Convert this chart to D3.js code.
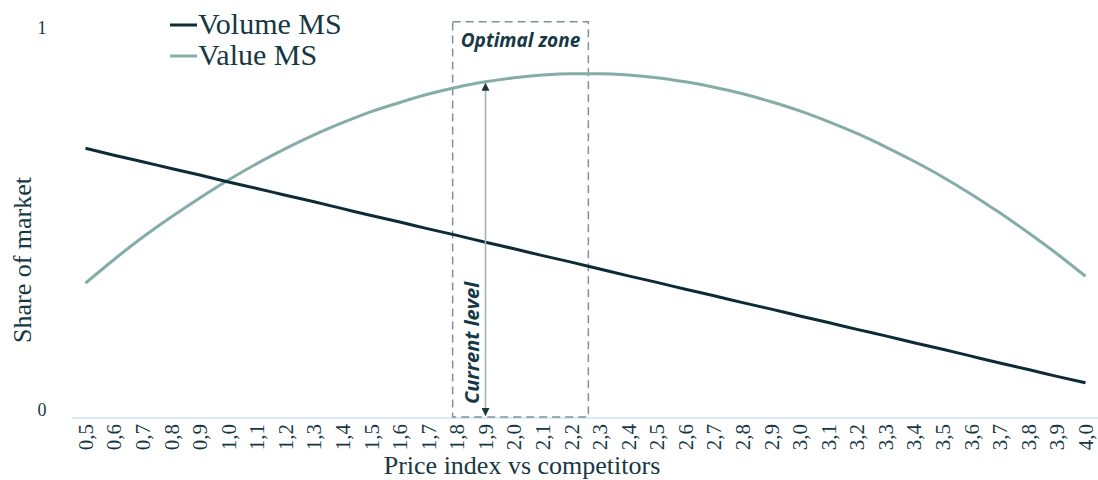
<!DOCTYPE html>
<html>
<head>
<meta charset="utf-8">
<script src="https://cdn.jsdelivr.net/npm/d3@7"></script>
<style>
  html, body { margin: 0; padding: 0; background: #fff; }
  svg { display: block; }
</style>
</head>
<body>
<svg id="chart" width="1098" height="480"></svg>
<script>
(function() {

  // price index categories (x axis)
  var priceLabels = ["0,5", "0,6", "0,7", "0,8", "0,9", "1,0", "1,1", "1,2", "1,3", "1,4",
                     "1,5", "1,6", "1,7", "1,8", "1,9", "2,0", "2,1", "2,2", "2,3", "2,4",
                     "2,5", "2,6", "2,7", "2,8", "2,9", "3,0", "3,1", "3,2", "3,3", "3,4",
                     "3,5", "3,6", "3,7", "3,8", "3,9", "4,0"];

  var volumeMS = [0.706, 0.688, 0.671, 0.653, 0.636, 0.618, 0.601, 0.583, 0.566, 0.548,
                  0.530, 0.513, 0.495, 0.478, 0.460, 0.443, 0.425, 0.408, 0.390, 0.372,
                  0.355, 0.337, 0.320, 0.302, 0.285, 0.267, 0.250, 0.232, 0.215, 0.197,
                  0.180, 0.162, 0.144, 0.127, 0.109, 0.092];

  var valueMS = [0.353, 0.415, 0.473, 0.526, 0.576, 0.623, 0.666, 0.705, 0.741, 0.773,
                 0.802, 0.826, 0.848, 0.866, 0.880, 0.891, 0.898, 0.901, 0.901, 0.898,
                 0.891, 0.880, 0.866, 0.849, 0.828, 0.804, 0.776, 0.745, 0.710, 0.672,
                 0.631, 0.586, 0.537, 0.485, 0.430, 0.371];

  var seriesNames = ["Volume MS", "Value MS"];
  var yTickLabels = ["0", "1"];

  // optimal zone (price index) and current level
  var optimalZone = [1.785, 2.26];
  var zoneTop = 1.037;
  var currentLevel = 1.9;

  var darkColor = "#0c2b37";
  var lightColor = "#84aca9";
  var textColor = "#163844";

  var prices = priceLabels.map(function(d) { return +d.replace(",", "."); });

  var svg = d3.select("#chart");

  var x = d3.scaleLinear().domain([0.5, 4.0]).range([85.5, 1085.5]);
  var y = d3.scaleLinear().domain([0, 1]).range([418, 36]);

  // x axis baseline
  svg.append("line")
      .attr("x1", 72)
      .attr("x2", 1100)
      .attr("y1", y(0))
      .attr("y2", y(0))
      .style("stroke", "#cce6f2")
      .style("stroke-width", 1.5);

  // x tick labels, rotated
  svg.append("g")
    .selectAll("text")
    .data(priceLabels)
    .enter()
    .append("text")
      .attr("transform", function(d, i) {
        return "translate(" + x(prices[i]) + "," + 424 + ") rotate(-90)";
      })
      .attr("text-anchor", "end")
      .attr("dy", "0.35em")
      .style("font-family", "'Liberation Serif', 'Times New Roman', serif")
      .style("font-size", "21px")
      .style("fill", textColor)
      .text(function(d) { return d; });

  // y tick labels
  svg.append("g")
    .selectAll("text")
    .data(yTickLabels)
    .enter()
    .append("text")
      .attr("x", 42)
      .attr("y", function(d) { return y(+d) - 8; })
      .attr("text-anchor", "middle")
      .attr("dy", "0.35em")
      .style("font-family", "'Liberation Serif', 'Times New Roman', serif")
      .style("font-size", "18px")
      .style("fill", textColor)
      .text(function(d) { return d; });

  // axis titles
  svg.append("text")
      .attr("x", 522)
      .attr("y", 474)
      .attr("text-anchor", "middle")
      .style("font-family", "'Liberation Serif', 'Times New Roman', serif")
      .style("font-size", "26px")
      .style("fill", textColor)
      .text("Price index vs competitors");

  svg.append("text")
      .attr("transform", "translate(31,260) rotate(-90)")
      .attr("text-anchor", "middle")
      .style("font-family", "'Liberation Serif', 'Times New Roman', serif")
      .style("font-size", "26px")
      .style("fill", textColor)
      .text("Share of market");

  // optimal zone box
  svg.append("rect")
      .attr("x", x(optimalZone[0]))
      .attr("y", y(zoneTop))
      .attr("width", x(optimalZone[1]) - x(optimalZone[0]))
      .attr("height", y(0) - y(zoneTop) - 1)
      .style("fill", "none")
      .style("stroke", "#7c9493")
      .style("stroke-width", 1.5)
      .style("stroke-dasharray", "8,5");

  svg.append("text")
      .attr("x", (x(optimalZone[0]) + x(optimalZone[1])) / 2)
      .attr("y", 47)
      .attr("text-anchor", "middle")
      .style("font-family", "'Open Sans', Lato, sans-serif")
      .style("font-style", "italic")
      .style("font-weight", "bold")
      .style("font-size", "19px")
      .style("fill", textColor)
      .text("Optimal zone");

  // lines
  var line = d3.line()
      .x(function(d, i) { return x(prices[i]); })
      .y(function(d) { return y(d); })
      .curve(d3.curveMonotoneX);

  svg.append("path")
      .datum(valueMS)
      .attr("d", line)
      .style("fill", "none")
      .style("stroke", lightColor)
      .style("stroke-width", 3);

  svg.append("path")
      .datum(volumeMS)
      .attr("d", line)
      .style("fill", "none")
      .style("stroke", darkColor)
      .style("stroke-width", 3);

  // current level double arrow
  var defs = svg.append("defs");
  ["start", "end"].forEach(function(k) {
    defs.append("marker")
        .attr("id", "arrow-" + k)
        .attr("viewBox", "0 0 10 10")
        .attr("refX", 10)
        .attr("refY", 5)
        .attr("markerWidth", 5)
        .attr("markerHeight", 5)
        .attr("orient", "auto-start-reverse")
      .append("path")
        .attr("d", "M0,0L10,5L0,10Z")
        .style("fill", "#1c3541");
  });

  var ax = x(currentLevel);
  var valueAtCurrent = valueMS[prices.indexOf(currentLevel)];
  svg.append("line")
      .attr("x1", ax)
      .attr("x2", ax)
      .attr("y1", y(valueAtCurrent) + 1)
      .attr("y2", y(0) - 2)
      .attr("marker-start", "url(#arrow-start)")
      .attr("marker-end", "url(#arrow-end)")
      .style("stroke", "#a7b1b8")
      .style("stroke-width", 1.6);

  svg.append("text")
      .attr("transform", "translate(" + (ax - 7) + ",343) rotate(-90)")
      .attr("text-anchor", "middle")
      .style("font-family", "'Open Sans', Lato, sans-serif")
      .style("font-style", "italic")
      .style("font-weight", "bold")
      .style("font-size", "20px")
      .style("fill", textColor)
      .text("Current level");

  // legend
  var legend = svg.append("g");
  var legendColors = [darkColor, lightColor];
  seriesNames.forEach(function(name, i) {
    var ly = 25 + i * 31;
    legend.append("line")
        .attr("x1", 170)
        .attr("x2", 197)
        .attr("y1", ly)
        .attr("y2", ly)
        .style("stroke", legendColors[i])
        .style("stroke-width", 3);
    legend.append("text")
        .attr("x", 198)
        .attr("y", ly + 9)
        .style("font-family", "'Liberation Serif', 'Times New Roman', serif")
        .style("font-size", "30px")
        .style("fill", textColor)
        .text(name);
  });

})();
</script>
</body>
</html>
